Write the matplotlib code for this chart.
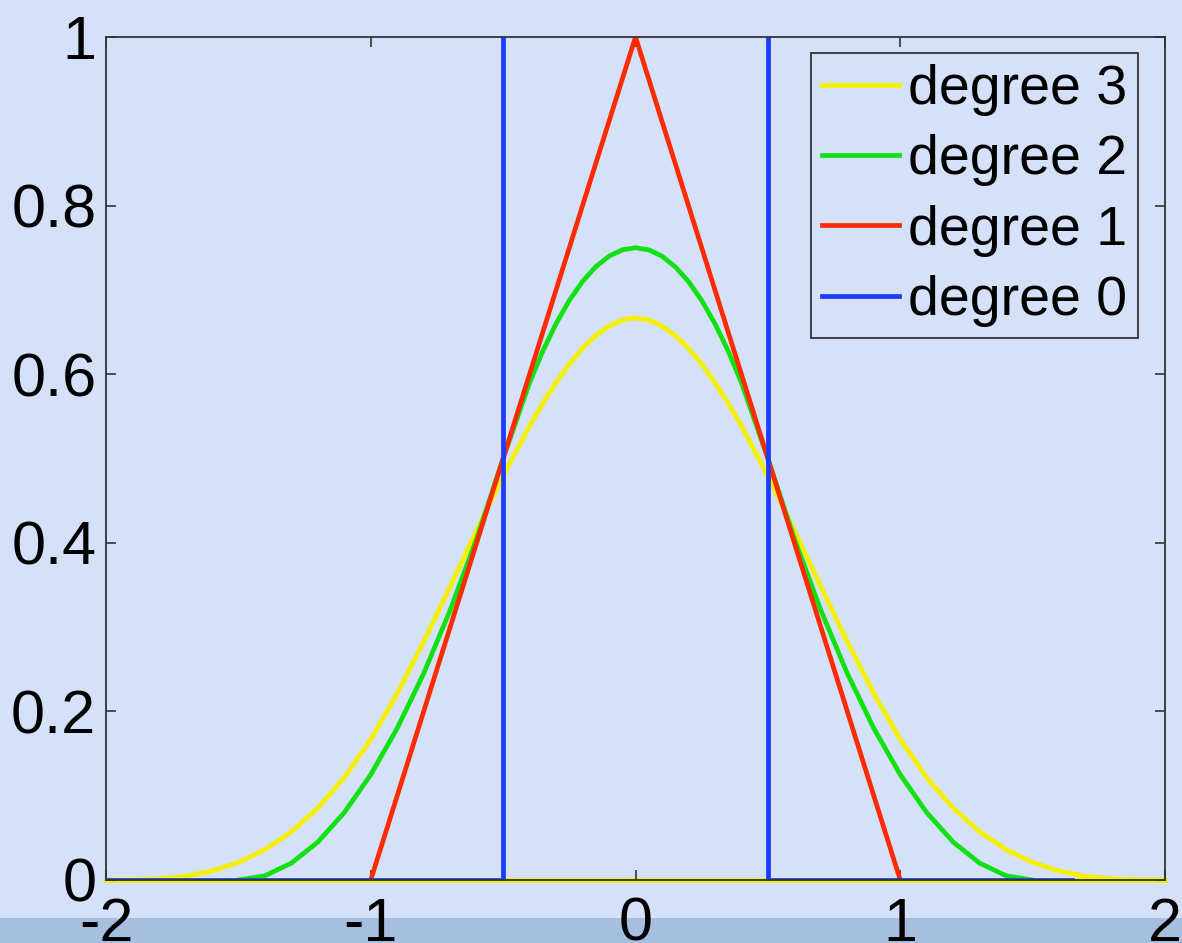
import matplotlib
matplotlib.use("Agg")
import matplotlib.pyplot as plt
from matplotlib.patches import Rectangle

# ---- data ----
x0 = [-2.0, -0.5, -0.5, 0.5, 0.5, 1.65]
y0 = [0.0, 0.0, 1.02, 1.02, 0.0, 0.0]

x1 = [-1.0, 0.0, 1.0]
y1 = [0.0, 1.0, 0.0]

x2 = [-1.5, -1.4, -1.3, -1.2, -1.1, -1.0, -0.9, -0.8, -0.7, -0.6, -0.5,
      -0.4, -0.35, -0.3, -0.25, -0.2, -0.15, -0.1, -0.05, 0.0,
      0.05, 0.1, 0.15, 0.2, 0.25, 0.3, 0.35, 0.4, 0.5,
      0.6, 0.7, 0.8, 0.9, 1.0, 1.1, 1.2, 1.3, 1.4, 1.5]
y2 = [0.0, 0.005, 0.02, 0.045, 0.08, 0.125, 0.18, 0.245, 0.32, 0.405, 0.5,
      0.59, 0.6275, 0.66, 0.6875, 0.71, 0.7275, 0.74, 0.7475, 0.75,
      0.7475, 0.74, 0.7275, 0.71, 0.6875, 0.66, 0.6275, 0.59, 0.5,
      0.405, 0.32, 0.245, 0.18, 0.125, 0.08, 0.045, 0.02, 0.005, 0.0]

x3 = [-2.0, -1.9, -1.8, -1.7, -1.6, -1.5, -1.4, -1.3, -1.2, -1.1, -1.0,
      -0.9, -0.8, -0.7, -0.6, -0.5, -0.4, -0.35, -0.3, -0.25, -0.2, -0.15, -0.1, -0.05, 0.0,
      0.05, 0.1, 0.15, 0.2, 0.25, 0.3, 0.35, 0.4, 0.5, 0.6, 0.7, 0.8, 0.9, 1.0,
      1.1, 1.2, 1.3, 1.4, 1.5, 1.6, 1.7, 1.8, 1.9, 2.0]
y3 = [0.0, 0.0002, 0.0013, 0.0045, 0.0107, 0.0208, 0.036, 0.0572, 0.0853, 0.1215, 0.1667,
      0.2212, 0.2827, 0.3482, 0.4147, 0.4792, 0.5387, 0.5656, 0.5902, 0.612, 0.6307,
      0.6459, 0.6572, 0.6643, 0.6667,
      0.6643, 0.6572, 0.6459, 0.6307, 0.612, 0.5902, 0.5656, 0.5387, 0.4792, 0.4147,
      0.3482, 0.2827, 0.2212, 0.1667,
      0.1215, 0.0853, 0.0572, 0.036, 0.0208, 0.0107, 0.0045, 0.0013, 0.0002, 0.0]

labels = ["degree 3", "degree 2", "degree 1", "degree 0"]
xticks = [-2, -1, 0, 1, 2]
yticks = [0, 0.2, 0.4, 0.6, 0.8, 1]
yticklabels = ["0", "0.2", "0.4", "0.6", "0.8", "1"]

# ---- style ----
bg = "#d4e1f9"
band = "#a7bfdf"
plt.rcParams["font.family"] = ["Liberation Sans", "DejaVu Sans"]

fig = plt.figure(figsize=(11.82, 9.43), dpi=100, facecolor=bg)
fig.add_artist(Rectangle((0, 0), 1, 25 / 943, transform=fig.transFigure,
                         facecolor=band, edgecolor="none", zorder=-1))
ax = fig.add_axes([106 / 1182, 1 - 880 / 943, (1165 - 106) / 1182, (880 - 37) / 943])
ax.set_facecolor(bg)

lw = 3.4
ax.plot([-2.0, 2.0], [0.0, 0.0], color="#f2ee00", lw=lw, zorder=1, clip_on=False)
ax.plot(x3, y3, color="#f5f000", lw=lw, label=labels[0], zorder=2)
ax.plot(x2, y2, color="#11e011", lw=lw, label=labels[1], zorder=3)
ax.plot(x1, y1, color="#ff2a00", lw=lw, label=labels[2], zorder=4)
ax.plot(x0, y0, color="#1a3cff", lw=lw, label=labels[3], zorder=5)

ax.set_xlim(-2, 2)
ax.set_ylim(0, 1)
ax.set_xticks(xticks)
ax.set_xticklabels([str(t) for t in xticks])
ax.set_yticks(yticks)
ax.set_yticklabels(yticklabels)
ax.tick_params(direction="in", length=7, width=1.2, color="#333333",
               labelsize=44, pad=7, top=True, right=True)
ax.tick_params(axis="x", pad=12)
for s in ax.spines.values():
    s.set_color("#333333")
    s.set_linewidth(1.3)
    s.set_zorder(6)

leg = ax.legend(loc="upper right", fontsize=40, frameon=True, fancybox=False,
                framealpha=1, facecolor=bg, edgecolor="#333333",
                handlelength=1.4, handletextpad=0.15, labelspacing=0.33,
                borderpad=0.2, borderaxespad=0.0,
                bbox_to_anchor=((1138 - 106) / 1059, (880 - 53) / 843))
leg.get_frame().set_linewidth(1.3)
leg.set_zorder(7)

fig.savefig("out.png", dpi=100, facecolor=bg)
